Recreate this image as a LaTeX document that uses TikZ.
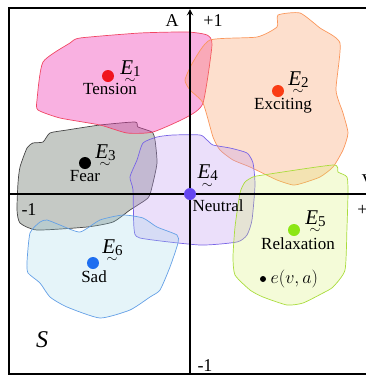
\RequirePackage{fix-cm}
\documentclass[tikz,border=0pt]{standalone}
\usepackage{amsmath}
\usepackage{fontspec}
\setmainfont{Liberation Serif}
\usetikzlibrary{positioning}

\definecolor{e1line}{RGB}{240,70,100}
\definecolor{e1fill}{RGB}{240,60,180}
\definecolor{e1dot}{RGB}{240,20,30}
\definecolor{e2line}{RGB}{250,150,90}
\definecolor{e2fill}{RGB}{250,150,90}
\definecolor{e2dot}{RGB}{250,60,20}
\definecolor{e3line}{RGB}{70,70,70}
\definecolor{e3fill}{RGB}{110,120,110}
\definecolor{e4line}{RGB}{120,100,230}
\definecolor{e4fill}{RGB}{190,150,240}
\definecolor{e4dot}{RGB}{100,70,240}
\definecolor{e5line}{RGB}{170,220,60}
\definecolor{e5fill}{RGB}{210,240,100}
\definecolor{e5dot}{RGB}{140,230,20}
\definecolor{e6line}{RGB}{100,160,230}
\definecolor{e6fill}{RGB}{150,210,230}
\definecolor{e6dot}{RGB}{30,110,240}

% emotion symbol: italic E, tilde underneath, index
\newcommand{\emo}[1]{\rlap{\raisebox{-0.46em}{\hspace{0.2em}\fontsize{14}{14}\selectfont$\sim$}}%
  \textit{E}\raisebox{-0.1em}{\fontsize{15}{15}\selectfont#1}}

\begin{document}
\begin{tikzpicture}[x=1pt,y=-1pt,>=stealth,
  region/.style={line width=0.7pt,fill opacity=0.4},
  emo dot/.style={circle,minimum size=12pt,inner sep=0pt},
  emo label/.style={font=\fontsize{21}{23}\selectfont,inner sep=1pt},
  emo name/.style={font=\fontsize{17}{19}\selectfont,inner sep=2pt},
  axis label/.style={font=\fontsize{18}{20}\selectfont,inner sep=0pt}]

  \clip (0,0) rectangle (366,376);
  \useasboundingbox (0,0) rectangle (366,376);

  % emotion regions
  \draw[region,draw=e3line,fill=e3fill] plot[smooth cycle,tension=0.35] coordinates {
    (18,183) (20,167) (27,148) (33,143) (43,142) (50,133) (67,130) (100,125)
    (135,122) (138,127) (152,132) (155,140) (157,163) (152,187) (148,198)
    (130,210) (113,222) (87,227) (37,230) (20,223) (17,210)};
  \draw[region,draw=e1line,fill=e1fill] plot[smooth cycle,tension=0.35] coordinates {
    (43,62) (70,43) (80,38) (140,33) (187,32) (207,35) (212,45) (203,103)
    (187,117) (153,132) (127,133) (100,125) (60,118) (38,110) (37,100)};
  \draw[region,draw=e2line,fill=e2fill,fill opacity=0.3] plot[smooth cycle,tension=0.35] coordinates {
    (185,80) (193,62) (210,40) (257,37) (277,27) (278,15) (300,13) (320,28)
    (340,43) (336,90) (343,113) (348,133) (343,150) (333,167) (320,177)
    (303,183) (293,185) (277,180) (250,167) (233,160) (220,150) (213,137)
    (203,103) (190,90)};
  \draw[region,draw=e4line,fill=e4fill,fill opacity=0.3] plot[smooth cycle,tension=0.35] coordinates {
    (143,143) (157,137) (173,135) (200,135) (207,140) (213,145) (230,148)
    (247,153) (253,163) (255,185) (252,220) (247,235) (237,242) (200,245)
    (140,238) (134,228) (133,190) (130,177) (137,160)};
  \draw[region,draw=e6line,fill=e6fill,fill opacity=0.25] plot[smooth cycle,tension=0.35] coordinates {
    (27,262) (30,233) (40,222) (47,220) (60,225) (80,232) (100,220) (123,215)
    (143,218) (157,227) (177,235) (178,243) (170,267) (160,290) (150,297)
    (130,310) (100,318) (67,307) (50,297) (40,283) (28,273)};
  \draw[region,draw=e5line,fill=e5fill,fill opacity=0.25] plot[smooth cycle,tension=0.35] coordinates {
    (245,182) (253,177) (263,175) (333,165) (338,172) (347,177) (348,193)
    (347,227) (345,270) (333,287) (323,293) (303,303) (287,305) (263,297)
    (250,290) (235,275) (233,257) (235,227) (240,193)};

  % frame and axes
  \draw[line width=1.4pt] (9,8) rectangle (390,374);
  \coordinate (O) at (190,194);
  \coordinate (atop) at (190,9);
  \coordinate (abot) at (190,374);
  \coordinate (vleft) at (9,194);
  \coordinate (vright) at (373,194);
  \draw[line width=1.8pt,->] (abot) -- (atop);
  \draw[line width=1.8pt,->] (vleft) -- (vright);

  \node[axis label] (alab) at (172,21) {A};
  \node[axis label] (aplus) at (213,21) {+1};
  \node[axis label] (vlab) at (368,181) {V};
  \node[axis label] (vplus) at (367,210) {+1};
  \node[axis label] (vminus) at (29,210) {-1};
  \node[axis label] (aminus) at (205,366) {-1};
  \node[font=\fontsize{24}{26}\selectfont] (space) at (42,340) {\textit{S}};

  % emotion centres
  \node[emo dot,fill=e1dot] (d1) at (108,76) {};
  \node[emo label,right=5pt of d1,yshift=4pt] (l1) {\emo{1}};
  \node[emo name,below=-1pt of d1,xshift=2pt] (n1) {Tension};

  \node[emo dot,fill=e2dot] (d2) at (278,91) {};
  \node[emo label,right=3pt of d2,yshift=8pt] (l2) {\emo{2}};
  \node[emo name,below=-1pt of d2,xshift=5pt] (n2) {Exciting};

  \node[emo dot,fill=black] (d3) at (85,163) {};
  \node[emo label,right=3pt of d3,yshift=7pt] (l3) {\emo{3}};
  \node[emo name,below=-1pt of d3] (n3) {Fear};

  \node[emo dot,fill=e4dot] (d4) at (O) {};
  \node[emo label,above right=0pt and 2pt of d4] (l4) {\emo{4}};
  \node[emo name,below right=-1pt and -4pt of d4] (n4) {Neutral};

  \node[emo dot,fill=e5dot] (d5) at (294,230) {};
  \node[emo label,right=4pt of d5,yshift=8pt] (l5) {\emo{5}};
  \node[emo name,below=-1pt of d5,xshift=4pt] (n5) {Relaxation};

  \node[emo dot,fill=e6dot] (d6) at (93,263) {};
  \node[emo label,right=2pt of d6,yshift=12pt] (l6) {\emo{6}};
  \node[emo name,below=-1pt of d6,xshift=1pt] (n6) {Sad};

  \node[circle,fill=black,minimum size=6pt,inner sep=0pt] (ev) at (263,279) {};
  \node[font=\fontsize{18}{20}\selectfont,right=1pt of ev] (evlab) {$e(v,a)$};
\end{tikzpicture}
\end{document}
